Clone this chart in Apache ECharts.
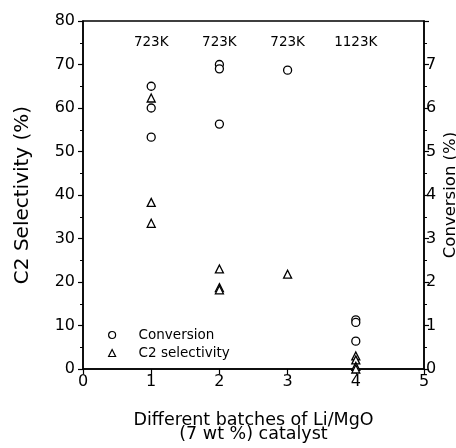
<!DOCTYPE html>
<html><head><meta charset="utf-8">
<script src="https://cdn.jsdelivr.net/npm/echarts@6/dist/echarts.min.js"></script>
<style>html,body{margin:0;padding:0;background:#fff}#c{width:456px;height:448px}</style>
</head><body><div id="c"></div>
<script>
// Data
const convX = [1, 1, 1, 2, 2, 2, 3, 4, 4, 4];
const convY = [6.5, 6.0, 5.33, 7.0, 6.9, 5.63, 6.87, 1.13, 1.07, 0.64];
const selX = [1, 1, 1, 2, 2, 2, 3, 4, 4, 4, 4];
const selY = [62.3, 38.3, 33.5, 23.0, 18.7, 18.2, 21.8, 3.0, 2.1, 0.6, 0.0];
const tempX = [1, 2, 3, 4];
const tempLabels = ['723K', '723K', '723K', '1123K'];
const tempLabelY = 75;

const F = 'DejaVu Sans';
const chart = echarts.init(document.getElementById('c'));
chart.setOption({
  animation: false,
  grid: {left: 83, right: 32, top: 21, bottom: 79, outerBoundsMode: 'none', containLabel: false,
    show: true, borderColor: '#000', borderWidth: 1.5, backgroundColor: 'transparent'},
  legend: {
    orient: 'vertical', left: 108, top: 327, padding: 0, itemGap: 2, itemWidth: 7, itemHeight: 7,
    itemStyle: {borderWidth: 1.2, opacity: 1},
    textStyle: {fontFamily: F, fontSize: 13.5, color: '#000', lineHeight: 16, padding: [0, 0, 0, 18]},
    data: ['Conversion', 'C2 selectivity']
  },
  xAxis: {
    type: 'value', min: 0, max: 5, interval: 1,
    name: 'Different batches of Li/MgO\n(7 wt %) catalyst',
    nameLocation: 'middle', nameGap: 44,
    nameTextStyle: {fontFamily: F, fontSize: 17.5, color: '#000', lineHeight: 14},
    axisLine: {lineStyle: {color: '#000', width: 1.5}},
    axisTick: {inside: false, length: 5, lineStyle: {color: '#000', width: 1.2}},
    axisLabel: {fontFamily: F, fontSize: 16, color: '#000', margin: 5},
    splitLine: {show: false}
  },
  yAxis: [{
    type: 'value', min: 0, max: 80, interval: 10, position: 'left',
    name: 'C2 Selectivity (%)', nameLocation: 'middle', nameGap: 50, nameRotate: 90,
    nameTextStyle: {fontFamily: F, fontSize: 20, color: '#000'},
    axisLine: {show: true, lineStyle: {color: '#000', width: 1.5}},
    axisTick: {show: true, length: 5, lineStyle: {color: '#000', width: 1.2}},
    minorTick: {show: true, splitNumber: 2, length: 3, lineStyle: {color: '#000', width: 1}},
    axisLabel: {fontFamily: F, fontSize: 16, color: '#000', margin: 8},
    splitLine: {show: false}
  }, {
    type: 'value', min: 0, max: 8, interval: 1, position: 'right',
    name: 'Conversion (%)', nameLocation: 'middle', nameGap: 18, nameRotate: 90,
    nameMoveOverlap: false,
    nameTextStyle: {fontFamily: F, fontSize: 16.5, color: '#000'},
    axisLine: {show: true, lineStyle: {color: '#000', width: 1.5}},
    axisTick: {show: true, length: 5, lineStyle: {color: '#000', width: 1.2}},
    minorTick: {show: true, splitNumber: 2, length: 3, lineStyle: {color: '#000', width: 1}},
    axisLabel: {fontFamily: F, fontSize: 16, color: '#000', margin: 2,
      formatter: v => (v === 8 ? '' : String(v))},
    splitLine: {show: false}
  }],
  series: [{
    name: 'Conversion', type: 'scatter', yAxisIndex: 1, symbol: 'circle', symbolSize: 8,
    itemStyle: {color: '#fff', borderColor: '#000', borderWidth: 1.3, opacity: 1},
    data: convX.map((x, i) => [x, convY[i]])
  }, {
    name: 'C2 selectivity', type: 'scatter', yAxisIndex: 0, symbol: 'triangle', symbolSize: 8,
    itemStyle: {color: '#fff', borderColor: '#000', borderWidth: 1.3, opacity: 1},
    data: selX.map((x, i) => [x, selY[i]])
  }, {
    name: 'temps', type: 'scatter', yAxisIndex: 0, symbolSize: 0, silent: true,
    itemStyle: {opacity: 1},
    label: {show: true, position: 'inside', fontFamily: F, fontSize: 13.5, color: '#000',
      formatter: p => tempLabels[p.dataIndex]},
    data: tempX.map(x => [x, tempLabelY])
  }]
});
</script></body></html>
